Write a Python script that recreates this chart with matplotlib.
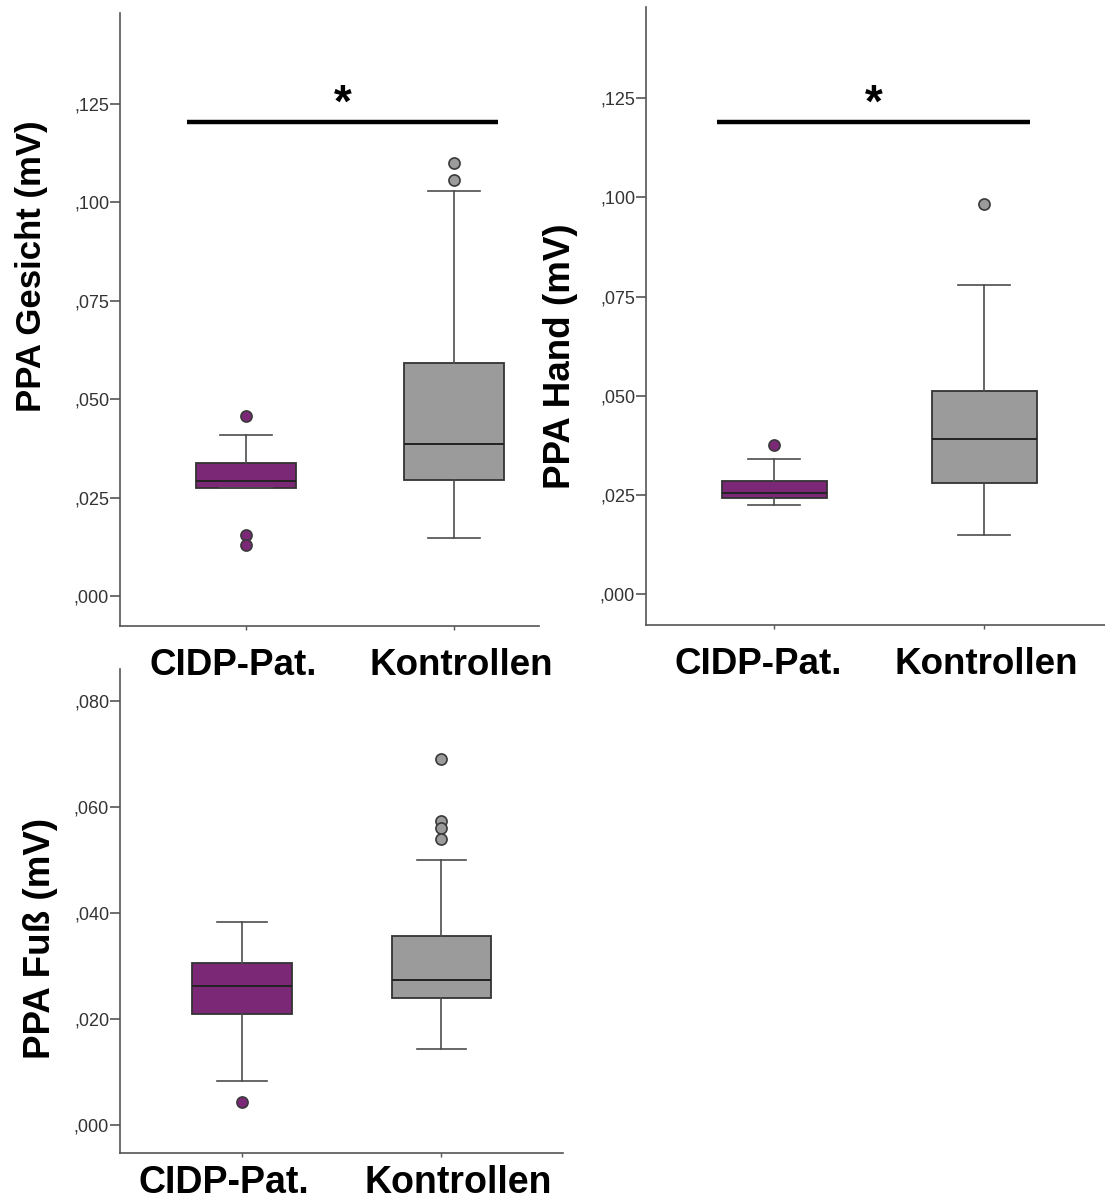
import matplotlib
matplotlib.use("Agg")
import matplotlib.pyplot as plt
import matplotlib.transforms as mtransforms
from matplotlib.ticker import FuncFormatter, MultipleLocator

plt.rcParams['font.family'] = ['Liberation Sans', 'DejaVu Sans']

groups = ['CIDP-Pat.', 'Kontrollen']

# Gesicht: whislo, q1, med, q3, whishi
gesicht_cidp = [0.0274, 0.0274, 0.0292, 0.0338, 0.0409]
gesicht_cidp_out = [0.0457, 0.0155, 0.0129]
gesicht_ctrl = [0.0147, 0.0294, 0.0387, 0.0592, 0.1029]
gesicht_ctrl_out = [0.1100, 0.1056]

hand_cidp = [0.0225, 0.0241, 0.0256, 0.0284, 0.0340]
hand_cidp_out = [0.0376]
hand_ctrl = [0.0149, 0.0279, 0.0390, 0.0513, 0.0780]
hand_ctrl_out = [0.0983]

fuss_cidp = [0.0083, 0.0209, 0.0261, 0.0306, 0.0382]
fuss_cidp_out = [0.0043]
fuss_ctrl = [0.0143, 0.0240, 0.0274, 0.0357, 0.0499]
fuss_ctrl_out = [0.0690, 0.0574, 0.0559, 0.0539]

# significance bars (y, x start, x end)
sig_gesicht = (0.1203, 0.715, 2.21)
sig_hand = (0.1189, 0.728, 2.22)

PURPLE = '#7b2877'
GREY = '#9b9b9b'
EDGE = '#333333'
LINE = '#4d4d4d'


def stats(vals, out, label):
    lo, q1, med, q3, hi = vals
    return dict(whislo=lo, q1=q1, med=med, q3=q3, whishi=hi, fliers=out, label=label)


def fmt(v, pos):
    return f"{v:.3f}".lstrip("0").replace(".", ",")


def panel(ax, cidp, cidp_out, ctrl, ctrl_out, ylab, ylim, xlim, step, width,
          labpos, labsize, xsize, xpad, shifts, sig=None):
    ax.patch.set_facecolor('none')
    bs = [stats(cidp, cidp_out, groups[0]), stats(ctrl, ctrl_out, groups[1])]
    res = ax.bxp(bs, positions=[1, 2], widths=width, patch_artist=True,
                 showfliers=True,
                 boxprops=dict(edgecolor=EDGE, linewidth=1.3),
                 medianprops=dict(color='#222222', linewidth=1.4),
                 whiskerprops=dict(color=LINE, linewidth=1.2),
                 capprops=dict(color=LINE, linewidth=1.2),
                 capwidths=0.25)
    for patch, c in zip(res['boxes'], [PURPLE, GREY]):
        patch.set_facecolor(c)
    for fl, c in zip(res['fliers'], [PURPLE, GREY]):
        fl.set(marker='o', markerfacecolor=c, markeredgecolor='#3a3a3a',
               markersize=8, markeredgewidth=1.2)
    ax.set_ylim(*ylim)
    ax.set_xlim(*xlim)
    ax.yaxis.set_major_locator(MultipleLocator(step))
    ax.yaxis.set_major_formatter(FuncFormatter(fmt))
    for s in ['top', 'right']:
        ax.spines[s].set_visible(False)
    for s in ['left', 'bottom']:
        ax.spines[s].set_color('#555555')
        ax.spines[s].set_linewidth(1.2)
    ax.tick_params(axis='y', length=7.5, width=1.2, color='#555555', pad=0.3,
                   labelsize=13, labelcolor='#333333')
    ax.tick_params(axis='x', length=3, width=1.0, color='#555555', pad=xpad,
                   labelsize=xsize)
    for t, dx in zip(ax.get_xticklabels(), shifts):
        t.set_fontweight('bold')
        t.set_transform(t.get_transform() +
                        mtransforms.ScaledTranslation(dx / 100, 0, ax.figure.dpi_scale_trans))
    ax.set_ylabel(ylab, fontsize=labsize, fontweight='bold')
    ax.yaxis.set_label_coords(*labpos)
    if sig is not None:
        y, x0, x1 = sig
        ax.plot([x0, x1], [y, y], color='black', linewidth=3.2, solid_capstyle='butt')
        ax.annotate('*', xy=((x0 + x1) / 2, y), xytext=(0, -3), textcoords='offset points',
                    ha='center', va='bottom', fontsize=33, fontweight='bold')


fig = plt.figure(figsize=(11.05, 12.02), dpi=100)

ax1 = fig.add_axes([0.1086, 0.4792, 0.3792, 0.5100])
panel(ax1, gesicht_cidp, gesicht_cidp_out, gesicht_ctrl, gesicht_ctrl_out,
      'PPA Gesicht (mV)', (-0.0076, 0.148), (0.394, 2.408), 0.025, 0.48,
      (-0.172, 0.587), 25, 26.5, 13, (-13, 7), sig_gesicht)

ax2 = fig.add_axes([0.5846, 0.4800, 0.4154, 0.5142])
panel(ax2, hand_cidp, hand_cidp_out, hand_ctrl, hand_ctrl_out,
      'PPA Hand (mV)', (-0.0078, 0.148), (0.39, 2.576), 0.025, 0.50,
      (-0.148, 0.435), 26.5, 26.5, 13, (-16, 2), sig_hand)

ax3 = fig.add_axes([0.1086, 0.0408, 0.4009, 0.4027])
panel(ax3, fuss_cidp, fuss_cidp_out, fuss_ctrl, fuss_ctrl_out,
      'PPA Fuß (mV)', (-0.0053, 0.086), (0.387, 2.61), 0.020, 0.50,
      (-0.140, 0.444), 26.5, 27, 6, (-18, 17))

fig.savefig('out.png', dpi=100, facecolor='white')
